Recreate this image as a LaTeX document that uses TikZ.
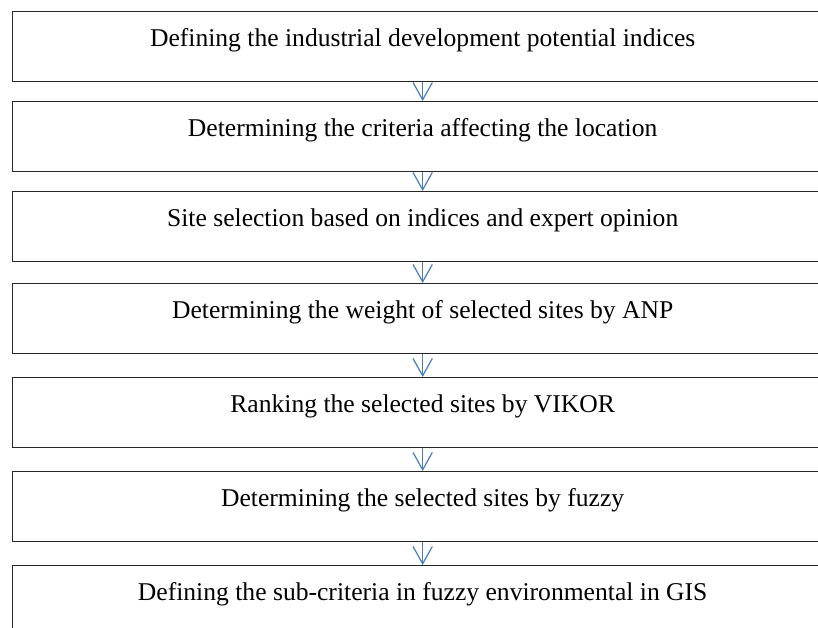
\documentclass[tikz,border=0pt]{standalone}
\usepackage{fontspec}
\setmainfont{Liberation Serif}
\usetikzlibrary{arrows.meta}
\definecolor{arrowblue}{RGB}{74,126,187}
\tikzset{
  stepbox/.style={draw=black!85, line width=1pt, rectangle, anchor=north west,
    minimum width=615pt, minimum height=52.5pt, inner sep=0pt,
    text height=26pt, text depth=26.5pt, font=\fontsize{19.2pt}{22pt}\selectfont},
  flow/.style={draw=arrowblue, line width=0.9pt, -{Straight Barb[length=13pt,width=14.5pt,line width=0.9pt]}}
}
\begin{document}
\begin{tikzpicture}[x=0.75pt,y=-0.75pt]
\useasboundingbox (0,0) rectangle (818,628);
\clip (0,0) rectangle (818,628);
\node[stepbox] (b1) at (12,11) {Defining the industrial development potential indices};
\node[stepbox] (b2) at (12,101) {Determining the criteria affecting the location};
\node[stepbox] (b3) at (12,191) {Site selection based on indices and expert opinion};
\node[stepbox] (b4) at (12,283) {Determining the weight of selected sites by ANP};
\node[stepbox] (b5) at (12,377) {Ranking the selected sites by VIKOR};
\node[stepbox] (b6) at (12,471) {Determining the selected sites by fuzzy};
\node[stepbox] (b7) at (12,565) {Defining the sub-criteria in fuzzy environmental in GIS};
\draw[flow] (b1.south) -- (b2.north);
\draw[flow] (b2.south) -- (b3.north);
\draw[flow] (b3.south) -- (b4.north);
\draw[flow] (b4.south) -- (b5.north);
\draw[flow] (b5.south) -- (b6.north);
\draw[flow] (b6.south) -- (b7.north);
\end{tikzpicture}
\end{document}
